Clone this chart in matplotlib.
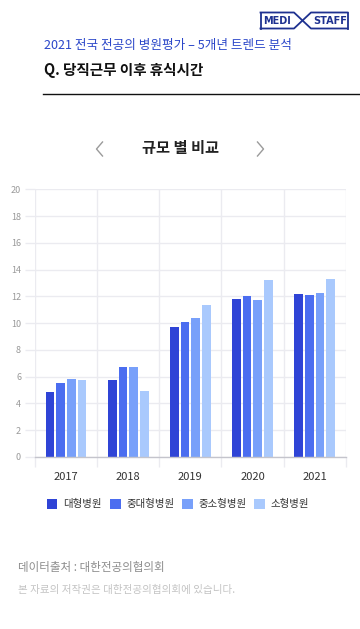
import matplotlib
matplotlib.use("Agg")
import matplotlib.pyplot as plt
import numpy as np
from matplotlib.lines import Line2D
from matplotlib.patches import Rectangle

plt.rcParams["font.family"] = ["Noto Sans CJK KR", "DejaVu Sans"]

years = ["2017", "2018", "2019", "2020", "2021"]
series_names = ["대형병원", "중대형병원", "중소형병원", "소형병원"]
large = [4.82, 5.75, 9.72, 11.78, 12.18]
mid_large = [5.51, 6.75, 10.08, 12.03, 12.08]
mid_small = [5.85, 6.75, 10.38, 11.76, 12.25]
small = [5.78, 4.95, 11.35, 13.23, 13.33]
y_ticks = [0, 2, 4, 6, 8, 10, 12, 14, 16, 18, 20]

colors = ["#2f44d6", "#4b6df0", "#78a0fa", "#a9c9fd"]
grid_color = "#ebebf0"

W, H = 360, 629


def fx(px):
    return px / W


def fy(py):
    return 1 - py / H


fig = plt.figure(figsize=(W / 100, H / 100), dpi=100)
fig.patch.set_facecolor("white")

# header
fig.text(fx(44), fy(45), "2021 전국 전공의 병원평가 – 5개년 트렌드 분석",
         fontsize=9.1, color="#2b47c9", va="center", ha="left")
fig.text(fx(44), fy(70), "Q. 당직근무 이후 휴식시간",
         fontsize=10.5, color="#111111", fontweight="bold", va="center", ha="left")
fig.add_artist(Line2D([fx(43), fx(360)], [fy(94), fy(94)], color="#111111", lw=1))

# logo
navy = "#1e3190"
lx0, lx1, ly0, ly1 = 260.5, 347.5, 12.5, 28.5
xa, xb = 294, 311
for xs, ys in [
    ([lx0, lx0], [ly0, ly1]),
    ([lx1, lx1], [ly0, ly1]),
    ([lx0, xa, xb, lx1], [ly0, ly0, ly1, ly1]),
    ([lx0, xa, xb, lx1], [ly1, ly1, ly0, ly0]),
]:
    fig.add_artist(Line2D([fx(v) for v in xs], [fy(v) for v in ys], color=navy, lw=1.3))
fig.text(fx(277), fy(20.5), "MEDI", fontsize=7, color=navy, fontweight="bold",
         family="DejaVu Sans", ha="center", va="center")
fig.text(fx(330), fy(20.5), "STAFF", fontsize=7, color=navy, fontweight="bold",
         family="DejaVu Sans", ha="center", va="center")

# chart title with chevrons
fig.text(fx(180), fy(148), "규모 별 비교", fontsize=11, color="#222222",
         fontweight="bold", ha="center", va="center")
for xs in ([102.5, 96.5, 102.5], [257.5, 263.5, 257.5]):
    fig.add_artist(Line2D([fx(v) for v in xs], [fy(142), fy(149), fy(156)],
                          color="#9a9a9a", lw=1))

# axes
ax = fig.add_axes([fx(35), fy(457), (345.7 - 35) / W, (457 - 189.3) / H])
x = np.arange(len(years))
all_series = [large, mid_large, mid_small, small]
step = 0.172
bar_w = 0.14
for i, (vals, col) in enumerate(zip(all_series, colors)):
    ax.bar(x + (i - 1.5) * step, vals, width=bar_w, color=col, zorder=3)

ax.set_xlim(-0.5, len(years) - 0.5)
ax.set_ylim(0, 20)
ax.set_yticks(y_ticks)
ax.set_yticklabels([str(t) for t in y_ticks])
ax.set_xticks(x)
ax.set_xticklabels(years)
ax.set_xticks(np.arange(-0.5, len(years), 1.0), minor=True)

ax.grid(True, axis="y", color=grid_color, lw=1, zorder=0)
ax.grid(True, axis="x", which="minor", color=grid_color, lw=1, zorder=0)
ax.grid(False, axis="x", which="major")

for side in ["top", "right", "left"]:
    ax.spines[side].set_visible(False)
ax.spines["bottom"].set_color("#c4c4cc")
ax.spines["bottom"].set_linewidth(1)
ax.spines["bottom"].set_zorder(4)

ax.tick_params(axis="y", length=7, width=1, color=grid_color, pad=3,
               labelsize=6.5, labelcolor="#9a9a9a")
ax.tick_params(axis="x", which="major", length=0, pad=10.5,
               labelsize=8, labelcolor="#333333")
ax.tick_params(axis="x", which="minor", length=7, width=1, color=grid_color)

# legend
sq_x = [46.7, 110, 182.3, 254]
for sx, name, col in zip(sq_x, series_names, colors):
    fig.add_artist(Rectangle((fx(sx), fy(509)), 10.5 / W, 10.5 / H,
                             facecolor=col, edgecolor="none"))
    fig.text(fx(sx + 16.5), fy(503.5), name, fontsize=7.5, color="#333333",
             ha="left", va="center")

# footer
fig.text(fx(18), fy(568), "데이터출처 : 대한전공의협의회", fontsize=8.3,
         color="#8c8c8c", ha="left", va="center")
fig.text(fx(18), fy(590), "본 자료의 저작권은 대한전공의협의회에 있습니다.", fontsize=7.6,
         color="#c4c4c4", ha="left", va="center")

fig.savefig("out.png", dpi=100)
